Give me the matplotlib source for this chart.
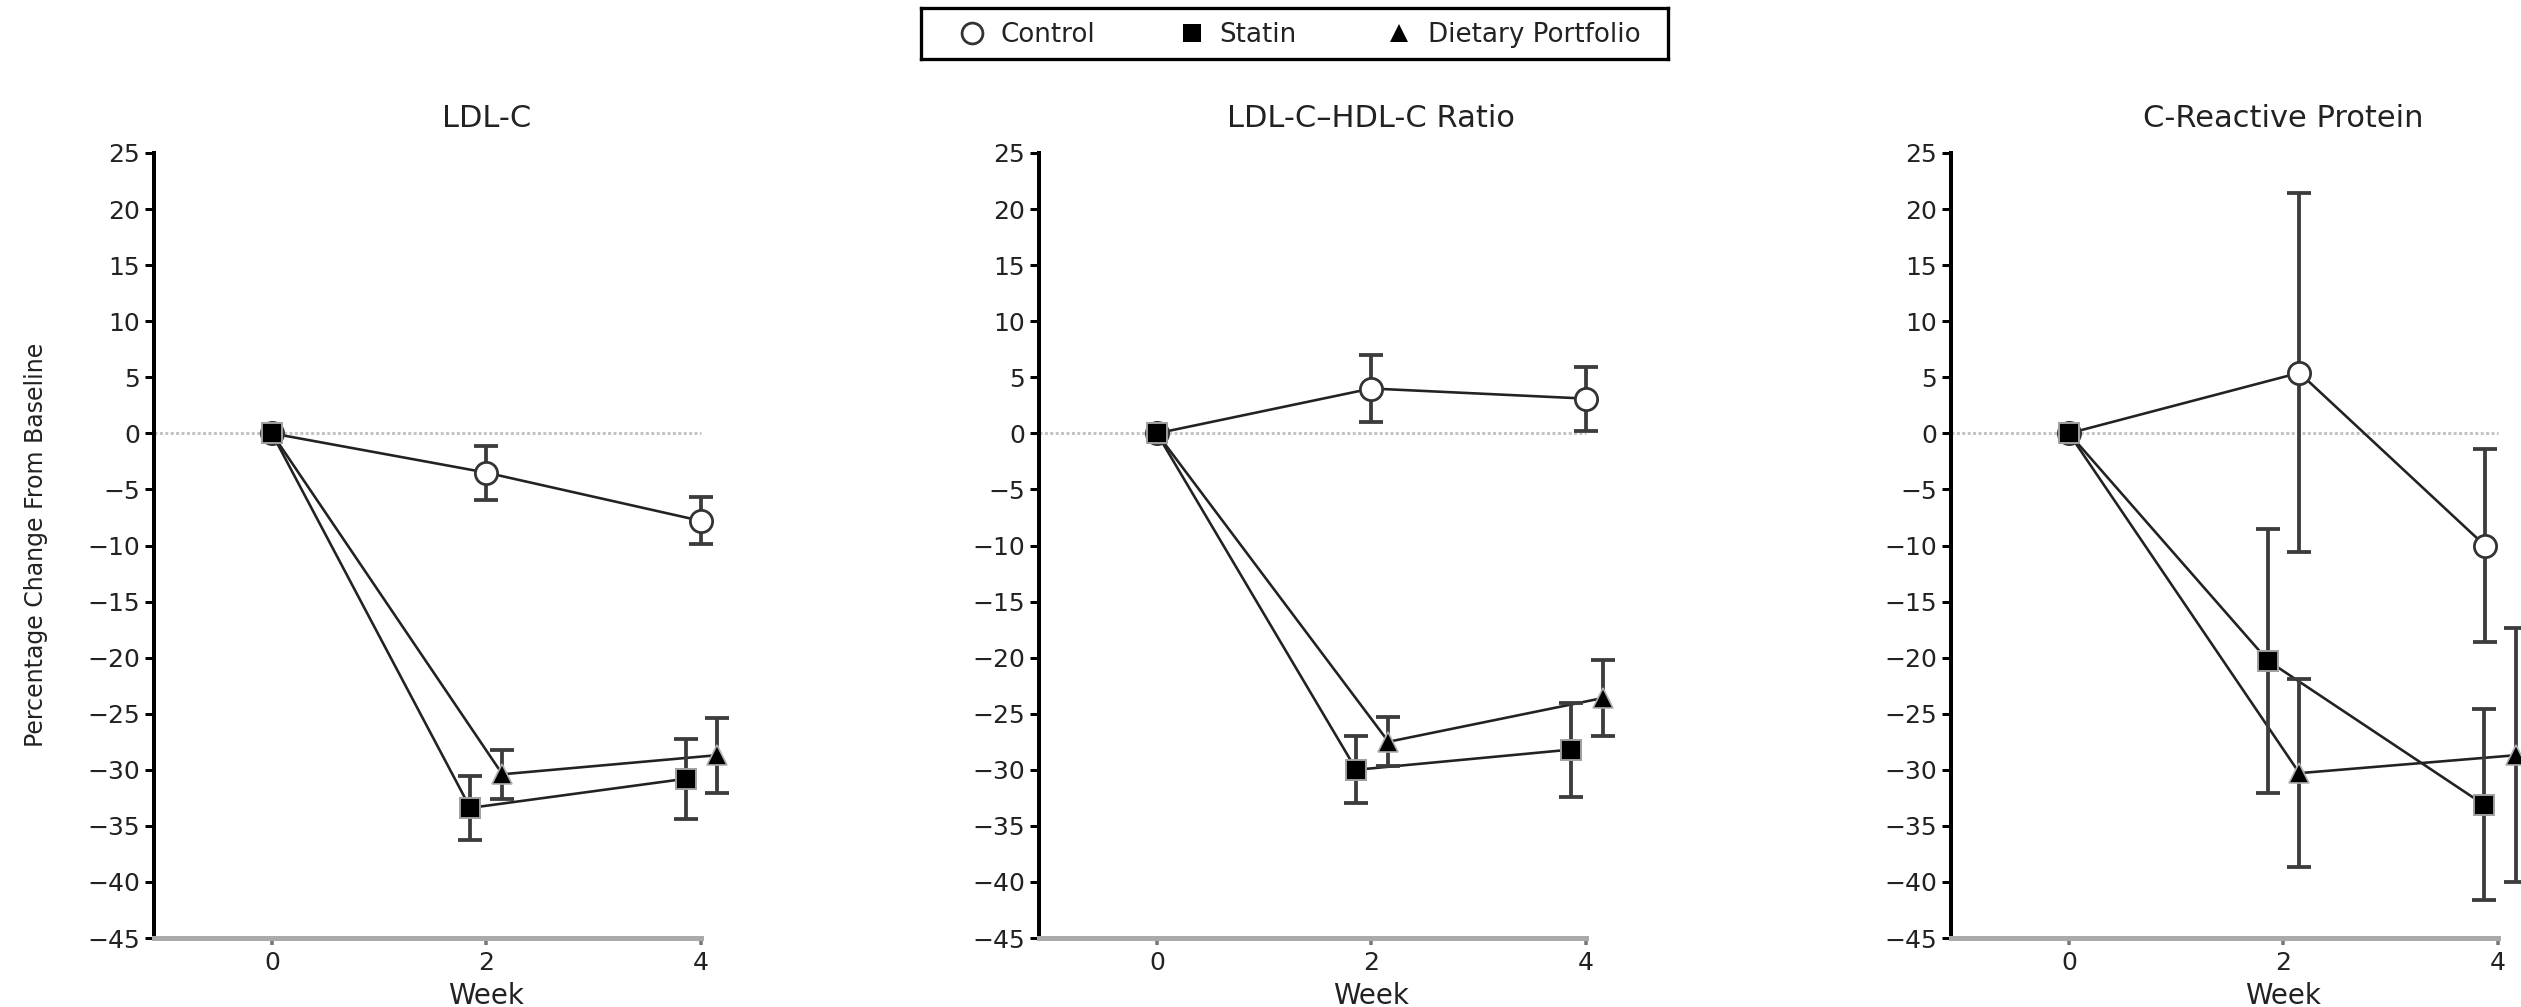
import numpy as np
import matplotlib
matplotlib.use("Agg")
import matplotlib.pyplot as plt
import matplotlib.transforms as mtransforms

plt.rcParams['font.family'] = ['DejaVu Sans']

# ---------------- data ----------------
weeks = [0, 2, 4]
series_names = ['Control', 'Statin', 'Dietary Portfolio']
panel_titles = ['LDL-C', 'LDL-C\u2013HDL-C Ratio', 'C-Reactive Protein']
y_ticks = list(range(-45, 30, 5))
x_ticks = [0, 2, 4]
x_label = 'Week'
y_label = 'Percentage Change From Baseline'

ldl_control = [0, -3.5, -7.8]
ldl_control_err = [0, 2.4, 2.1]
ldl_statin = [0, -33.4, -30.8]
ldl_statin_err = [0, 2.85, 3.55]
ldl_diet = [0, -30.4, -28.7]
ldl_diet_err = [0, 2.2, 3.35]

ratio_control = [0, 4.0, 3.1]
ratio_control_err = [0, 3.0, 2.85]
ratio_statin = [0, -30.0, -28.2]
ratio_statin_err = [0, 3.0, 4.2]
ratio_diet = [0, -27.5, -23.6]
ratio_diet_err = [0, 2.2, 3.4]

crp_control = [0, 5.4, -10.0]
crp_control_err = [0, 16.0, 8.6]
crp_statin = [0, -20.3, -33.1]
crp_statin_err = [0, 11.8, 8.5]
crp_diet = [0, -30.3, -28.7]
crp_diet_err = [0, 8.4, 11.3]

panel_values = [
    [(ldl_control, ldl_control_err), (ldl_statin, ldl_statin_err), (ldl_diet, ldl_diet_err)],
    [(ratio_control, ratio_control_err), (ratio_statin, ratio_statin_err), (ratio_diet, ratio_diet_err)],
    [(crp_control, crp_control_err), (crp_statin, crp_statin_err), (crp_diet, crp_diet_err)],
]

# horizontal display jitter (layout, not data)
jitter = [
    [[0, 0, 0], [0, -0.15, -0.14], [0, 0.15, 0.15]],
    [[0, 0, 0], [0, -0.14, -0.14], [0, 0.16, 0.16]],
    [[0, 0.15, -0.12], [0, -0.14, -0.13], [0, 0.15, 0.17]],
]

# ---------------- layout ----------------
W, H = 2521, 1007
def pt(px):
    return px * 72.0 / 100.0

fig = plt.figure(figsize=(W / 100, H / 100), dpi=100)

XLIM = (-1.1, 4.45)
px_per_unit = 107.2
ax_w = (XLIM[1] - XLIM[0]) * px_per_unit
ax_lefts = [154, 1039, 1951]
ax_top, ax_bottom = 153, 938

INK = '#222222'
styles = [
    dict(marker='o', markersize=16, markerfacecolor='white', markeredgecolor='#333333', markeredgewidth=2.0),
    dict(marker='s', markersize=14, markerfacecolor='black', markeredgecolor='#a0a0a0', markeredgewidth=1.4),
    dict(marker='^', markersize=14, markerfacecolor='black', markeredgecolor='#b0b0b0', markeredgewidth=1.2),
]
marker_z = [5, 7, 6]

for p in range(3):
    ax = fig.add_axes([ax_lefts[p] / W, (H - ax_bottom) / H, ax_w / W, (ax_bottom - ax_top) / H])
    ax.set_xlim(*XLIM)
    ax.set_ylim(-45, 25)
    for s in ['top', 'right']:
        ax.spines[s].set_visible(False)
    ax.spines['left'].set_linewidth(pt(4))
    ax.spines['left'].set_color('black')
    ax.spines['bottom'].set_linewidth(pt(5))
    ax.spines['bottom'].set_color('#aaaaaa')
    ax.spines['bottom'].set_bounds(XLIM[0], x_ticks[-1])

    ax.set_yticks(y_ticks)
    ax.set_xticks(x_ticks)
    ax.tick_params(axis='y', length=pt(9), width=pt(3), color='black', pad=pt(5),
                   labelsize=18, labelcolor=INK)
    ax.tick_params(axis='x', length=pt(7), width=pt(3.5), color='#777777', pad=pt(6),
                   labelsize=18, labelcolor=INK)

    ax.hlines(0, XLIM[0], x_ticks[-1], colors='#c4c4c4', linestyles=(0, (1, 0.8)),
              linewidth=pt(3), zorder=1)

    for k in range(3):
        vals, errs = panel_values[p][k]
        xs = [w + j for w, j in zip(weeks, jitter[p][k])]
        ax.plot(xs, vals, color=INK, linewidth=pt(2.6), zorder=2, clip_on=False)
        ax.errorbar(xs[1:], vals[1:], yerr=errs[1:], fmt='none', ecolor='#3c3c3c',
                    elinewidth=pt(3.8), capsize=pt(12), capthick=pt(3.8), zorder=3, clip_on=False)
        ax.plot(xs, vals, linestyle='none', zorder=marker_z[k], clip_on=False, **styles[k])

    tr = mtransforms.blended_transform_factory(ax.transData, ax.transAxes)
    ax.text(2, 1.033, panel_titles[p], transform=tr, ha='center', va='baseline',
            fontsize=22, color=INK)
    ax.text(2, -0.084, x_label, transform=tr, ha='center', va='baseline',
            fontsize=20, color=INK)

fig.text(36 / W, 1 - 545 / H, y_label, rotation=90, ha='center', va='center',
         fontsize=17, color=INK)

# ---------------- legend box ----------------
lx0, lx1, ly0, ly1 = 921, 1668, 8, 59
lax = fig.add_axes([lx0 / W, (H - ly1) / H, (lx1 - lx0) / W, (ly1 - ly0) / H])
lax.set_xlim(0, lx1 - lx0)
lax.set_ylim(0, ly1 - ly0)
lax.set_xticks([])
lax.set_yticks([])
for s in lax.spines.values():
    s.set_linewidth(pt(3.3))
    s.set_color('black')
key_x = [51, 271, 478]
text_x = [79, 298, 507]
leg_styles = [
    dict(marker='o', markersize=15, markerfacecolor='white', markeredgecolor='#333333', markeredgewidth=2.0),
    dict(marker='s', markersize=12.5, markerfacecolor='black', markeredgecolor='black', markeredgewidth=0),
    dict(marker='^', markersize=13, markerfacecolor='black', markeredgecolor='black', markeredgewidth=0),
]
for k in range(3):
    lax.plot([key_x[k]], [26], linestyle='none', **leg_styles[k])
    lax.text(text_x[k], 17, series_names[k], ha='left', va='baseline', fontsize=18.8, color=INK)

fig.savefig('out.png', dpi=100)
